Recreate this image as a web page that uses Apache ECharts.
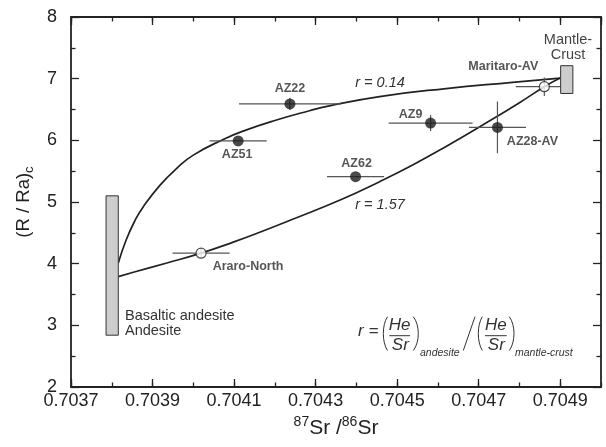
<!DOCTYPE html>
<html>
<head>
<meta charset="utf-8">
<script src="https://cdn.jsdelivr.net/npm/echarts@6/dist/echarts.min.js"></script>
<style>
html,body{margin:0;padding:0;background:#fff}
#main{width:606px;height:447px}
</style>
</head>
<body>
<div id="main"></div>
<script>
// samples
var sampleNames = ['AZ22', 'AZ51', 'AZ62', 'AZ9', 'AZ28-AV', 'Maritaro-AV', 'Araro-North'];
var sampleSr    = [0.704237, 0.704110, 0.704398, 0.704582, 0.704746, 0.704861, 0.704019];
var sampleSrErr = [0.000125, 0.00007, 0.00007, 0.000103, 0.00007, 0.00007, 0.00007];
var sampleRa    = [6.59, 5.99, 5.41, 6.28, 6.21, 6.87, 4.17];
var sampleRaErr = [0.10, 0, 0, 0.13, 0.42, 0.15, 0.08];
var openSamples = ['Maritaro-AV', 'Araro-North'];

// end members: [Sr from, Sr to, R/Ra from, R/Ra to]
var andesiteBox = [0.703786, 0.703816, 2.84, 5.10];
var mantleBox   = [0.704901, 0.704931, 6.76, 7.21];

// mixing curve r = 0.14
var curveHiSr = [0.703816, 0.703835, 0.703857, 0.703877, 0.703918, 0.703960, 0.704000, 0.704072,
                 0.704122, 0.704204, 0.704285, 0.704334, 0.704457, 0.704620, 0.704783, 0.704900];
var curveHiRa = [4.01, 4.38, 4.70, 4.92, 5.27, 5.55, 5.76, 6.01,
                 6.15, 6.33, 6.48, 6.56, 6.71, 6.84, 6.94, 7.01];
// mixing curve r = 1.57
var curveLoSr = [0.703816, 0.703853, 0.703935, 0.704019, 0.704098, 0.704163, 0.704236, 0.704363,
                 0.704457, 0.704538, 0.704620, 0.704718, 0.704800, 0.704861, 0.704900];
var curveLoRa = [3.79, 3.86, 4.01, 4.17, 4.35, 4.51, 4.70, 5.04,
                 5.33, 5.60, 5.90, 6.28, 6.61, 6.87, 7.01];

var FONT = '"Liberation Sans", Arial, sans-serif';
var INK = '#222';

// label placement (px offsets from the symbol centre)
var labelOffsets = {
  'AZ22': [0, -15], 'AZ51': [-1, 14], 'AZ62': [1, -13], 'AZ9': [-20, -9],
  'AZ28-AV': [35, 14], 'Maritaro-AV': [-41, -20], 'Araro-North': [47, 13]
};

var filled = [], hollow = [], errData = [];
sampleNames.forEach(function (n, i) {
  var item = { name: n, value: [sampleSr[i], sampleRa[i]], label: { offset: labelOffsets[n] } };
  if (openSamples.indexOf(n) >= 0) hollow.push(item); else filled.push(item);
  errData.push([sampleSr[i], sampleRa[i], sampleSrErr[i], sampleRaErr[i]]);
});

function pairs(xs, ys) {
  return xs.map(function (x, i) { return [x, ys[i]]; });
}

var xBase = { type: 'value', min: 0.7037, max: 0.7050, splitLine: { show: false } };
function xAxis(pos, interval, len, lineShow, labels) {
  return Object.assign({}, xBase, {
    position: pos,
    interval: interval,
    axisLine: { show: lineShow, lineStyle: { color: INK, width: 1.8 } },
    axisTick: { show: true, inside: true, length: len, lineStyle: { color: INK, width: 1.3 } },
    axisLabel: labels ? {
      show: true, margin: 5, color: INK, fontSize: 18, fontFamily: FONT, showMaxLabel: false,
      formatter: function (v) { return v.toFixed(4); }
    } : { show: false }
  });
}
function yAxis(pos, labels) {
  return {
    type: 'value', position: pos, min: 2, max: 8, interval: 1,
    splitLine: { show: false },
    axisLine: { show: true, lineStyle: { color: INK, width: 1.8 } },
    axisTick: { show: true, inside: true, length: 8, lineStyle: { color: INK, width: 1.3 } },
    minorTick: { show: true, splitNumber: 2, length: 4.5, lineStyle: { color: INK, width: 1.3 } },
    axisLabel: labels ? { show: true, margin: 14, color: INK, fontSize: 18, fontFamily: FONT } : { show: false }
  };
}

var xAxes = [xAxis('bottom', 0.0002, 8, true, true), xAxis('bottom', 0.0001, 4.5, false, false),
             xAxis('top', 0.0002, 8, true, false), xAxis('top', 0.0001, 4.5, false, false)];
xAxes[0].name = '{s|87}{m|Sr /}{s|86}{m|Sr}';
xAxes[0].nameLocation = 'middle';
xAxes[0].nameGap = 26;
xAxes[0].nameTextStyle = {
  color: INK, fontFamily: FONT,
  rich: {
    s: { fontSize: 14, lineHeight: 14, verticalAlign: 'top', color: INK, fontFamily: FONT },
    m: { fontSize: 21, lineHeight: 26, color: INK, fontFamily: FONT }
  }
};
var yAxes = [yAxis('left', true), yAxis('right', false)];
yAxes[0].name = '{m|(R / Ra)}{c|c}';
yAxes[0].nameLocation = 'middle';
yAxes[0].nameRotate = 90;
yAxes[0].nameGap = 29;
yAxes[0].nameTextStyle = {
  color: INK, fontFamily: FONT,
  rich: {
    m: { fontSize: 18.5, lineHeight: 24, color: INK, fontFamily: FONT },
    c: { fontSize: 13, lineHeight: 14, verticalAlign: 'bottom', color: INK, fontFamily: FONT }
  }
};

var pointLabel = {
  show: true, position: 'inside', formatter: '{b}', color: '#2a2a2a',
  fontFamily: FONT, fontWeight: 'bold', fontSize: 12.5
};

function paren(xEnd, xBulge, y0, y1) {
  var c = xEnd + (xBulge - xEnd) * 4 / 3;
  return {
    type: 'bezierCurve',
    shape: { x1: xEnd, y1: y0, cpx1: c, cpy1: y0 + (y1 - y0) * 0.25, cpx2: c, cpy2: y0 + (y1 - y0) * 0.75, x2: xEnd, y2: y1 },
    style: { stroke: '#333', lineWidth: 1, fill: 'none' }
  };
}
function txt(x, y, text, font, align, extra) {
  return {
    type: 'text', x: x, y: y, z: 10,
    style: Object.assign({ text: text, font: font, fill: '#333', align: align || 'center', verticalAlign: 'middle' }, extra || {})
  };
}
var itFont = function (s) { return 'italic ' + s + 'px ' + FONT; };

var graphics = [
  txt(380, 83, 'r = 0.14', itFont(14.5)),
  txt(380, 205, 'r = 1.57', itFont(14.5)),
  txt(568, 32, 'Mantle-\nCrust', '14.5px ' + FONT, 'center', { verticalAlign: 'top', lineHeight: 15, fill: '#444' }),
  txt(125, 308, 'Basaltic andesite\nAndesite', '14.5px ' + FONT, 'left', { verticalAlign: 'top', lineHeight: 15 }),
  // formula
  txt(358, 331, 'r =', itFont(17), 'left'),
  paren(387.5, 383.3, 316.7, 350.5),
  txt(399.7, 325.5, 'He', itFont(17)),
  { type: 'line', shape: { x1: 389.3, y1: 335.7, x2: 410, y2: 335.7 }, style: { stroke: '#333', lineWidth: 1 } },
  txt(400.3, 345, 'Sr', itFont(17)),
  paren(413.3, 418.3, 316.7, 350.5),
  txt(420, 353.5, 'andesite', itFont(10.5), 'left'),
  { type: 'line', shape: { x1: 475, y1: 316.7, x2: 463.3, y2: 350.5 }, style: { stroke: '#333', lineWidth: 1 } },
  paren(482.3, 478.3, 316.7, 350.5),
  txt(495.8, 325.5, 'He', itFont(17)),
  { type: 'line', shape: { x1: 485, y1: 335.7, x2: 506.7, y2: 335.7 }, style: { stroke: '#333', lineWidth: 1 } },
  txt(496.3, 345, 'Sr', itFont(17)),
  paren(509.3, 514, 316.7, 350.5),
  txt(515, 353.5, 'mantle-crust', itFont(10.5), 'left')
];

var chart = echarts.init(document.getElementById('main'));
chart.setOption({
  animation: false,
  backgroundColor: '#fff',
  grid: { left: 71, right: 5, top: 17, bottom: 60, outerBoundsMode: 'none' },
  xAxis: xAxes,
  yAxis: yAxes,
  graphic: graphics,
  series: [
    {
      type: 'line', data: pairs(curveHiSr, curveHiRa), smooth: 0.5, showSymbol: false, z: 2,
      lineStyle: { color: INK, width: 1.7 }
    },
    {
      type: 'line', data: pairs(curveLoSr, curveLoRa), smooth: 0.5, showSymbol: false, z: 2,
      lineStyle: { color: INK, width: 1.7 }
    },
    {
      type: 'custom', z: 3, data: errData, encode: { x: 0, y: 1 },
      renderItem: function (params, api) {
        var x = api.value(0), y = api.value(1), ex = api.value(2), ey = api.value(3);
        var l = api.coord([x - ex, y]), r = api.coord([x + ex, y]);
        var t = api.coord([x, y + ey]), b = api.coord([x, y - ey]);
        var st = { stroke: '#555', lineWidth: 1.2 };
        return {
          type: 'group', children: [
            { type: 'line', shape: { x1: l[0], y1: l[1], x2: r[0], y2: r[1] }, style: st },
            { type: 'line', shape: { x1: t[0], y1: t[1], x2: b[0], y2: b[1] }, style: st }
          ]
        };
      }
    },
    {
      type: 'custom', z: 4, data: [andesiteBox, mantleBox], encode: { x: [0, 1], y: [2, 3] },
      renderItem: function (params, api) {
        var p0 = api.coord([api.value(0), api.value(3)]);
        var p1 = api.coord([api.value(1), api.value(2)]);
        return {
          type: 'rect',
          shape: { x: p0[0], y: p0[1], width: p1[0] - p0[0], height: p1[1] - p0[1] },
          style: { fill: '#cdcdcd', stroke: '#333', lineWidth: 1 }
        };
      }
    },
    {
      type: 'scatter', z: 5, data: filled, symbol: 'circle', symbolSize: 11,
      itemStyle: { color: '#1c1c1c' }, label: pointLabel
    },
    {
      type: 'scatter', z: 5, data: hollow, symbol: 'circle', symbolSize: 10,
      itemStyle: { color: '#fff', borderColor: INK, borderWidth: 1.2 }, label: pointLabel
    }
  ]
});
</script>
</body>
</html>
